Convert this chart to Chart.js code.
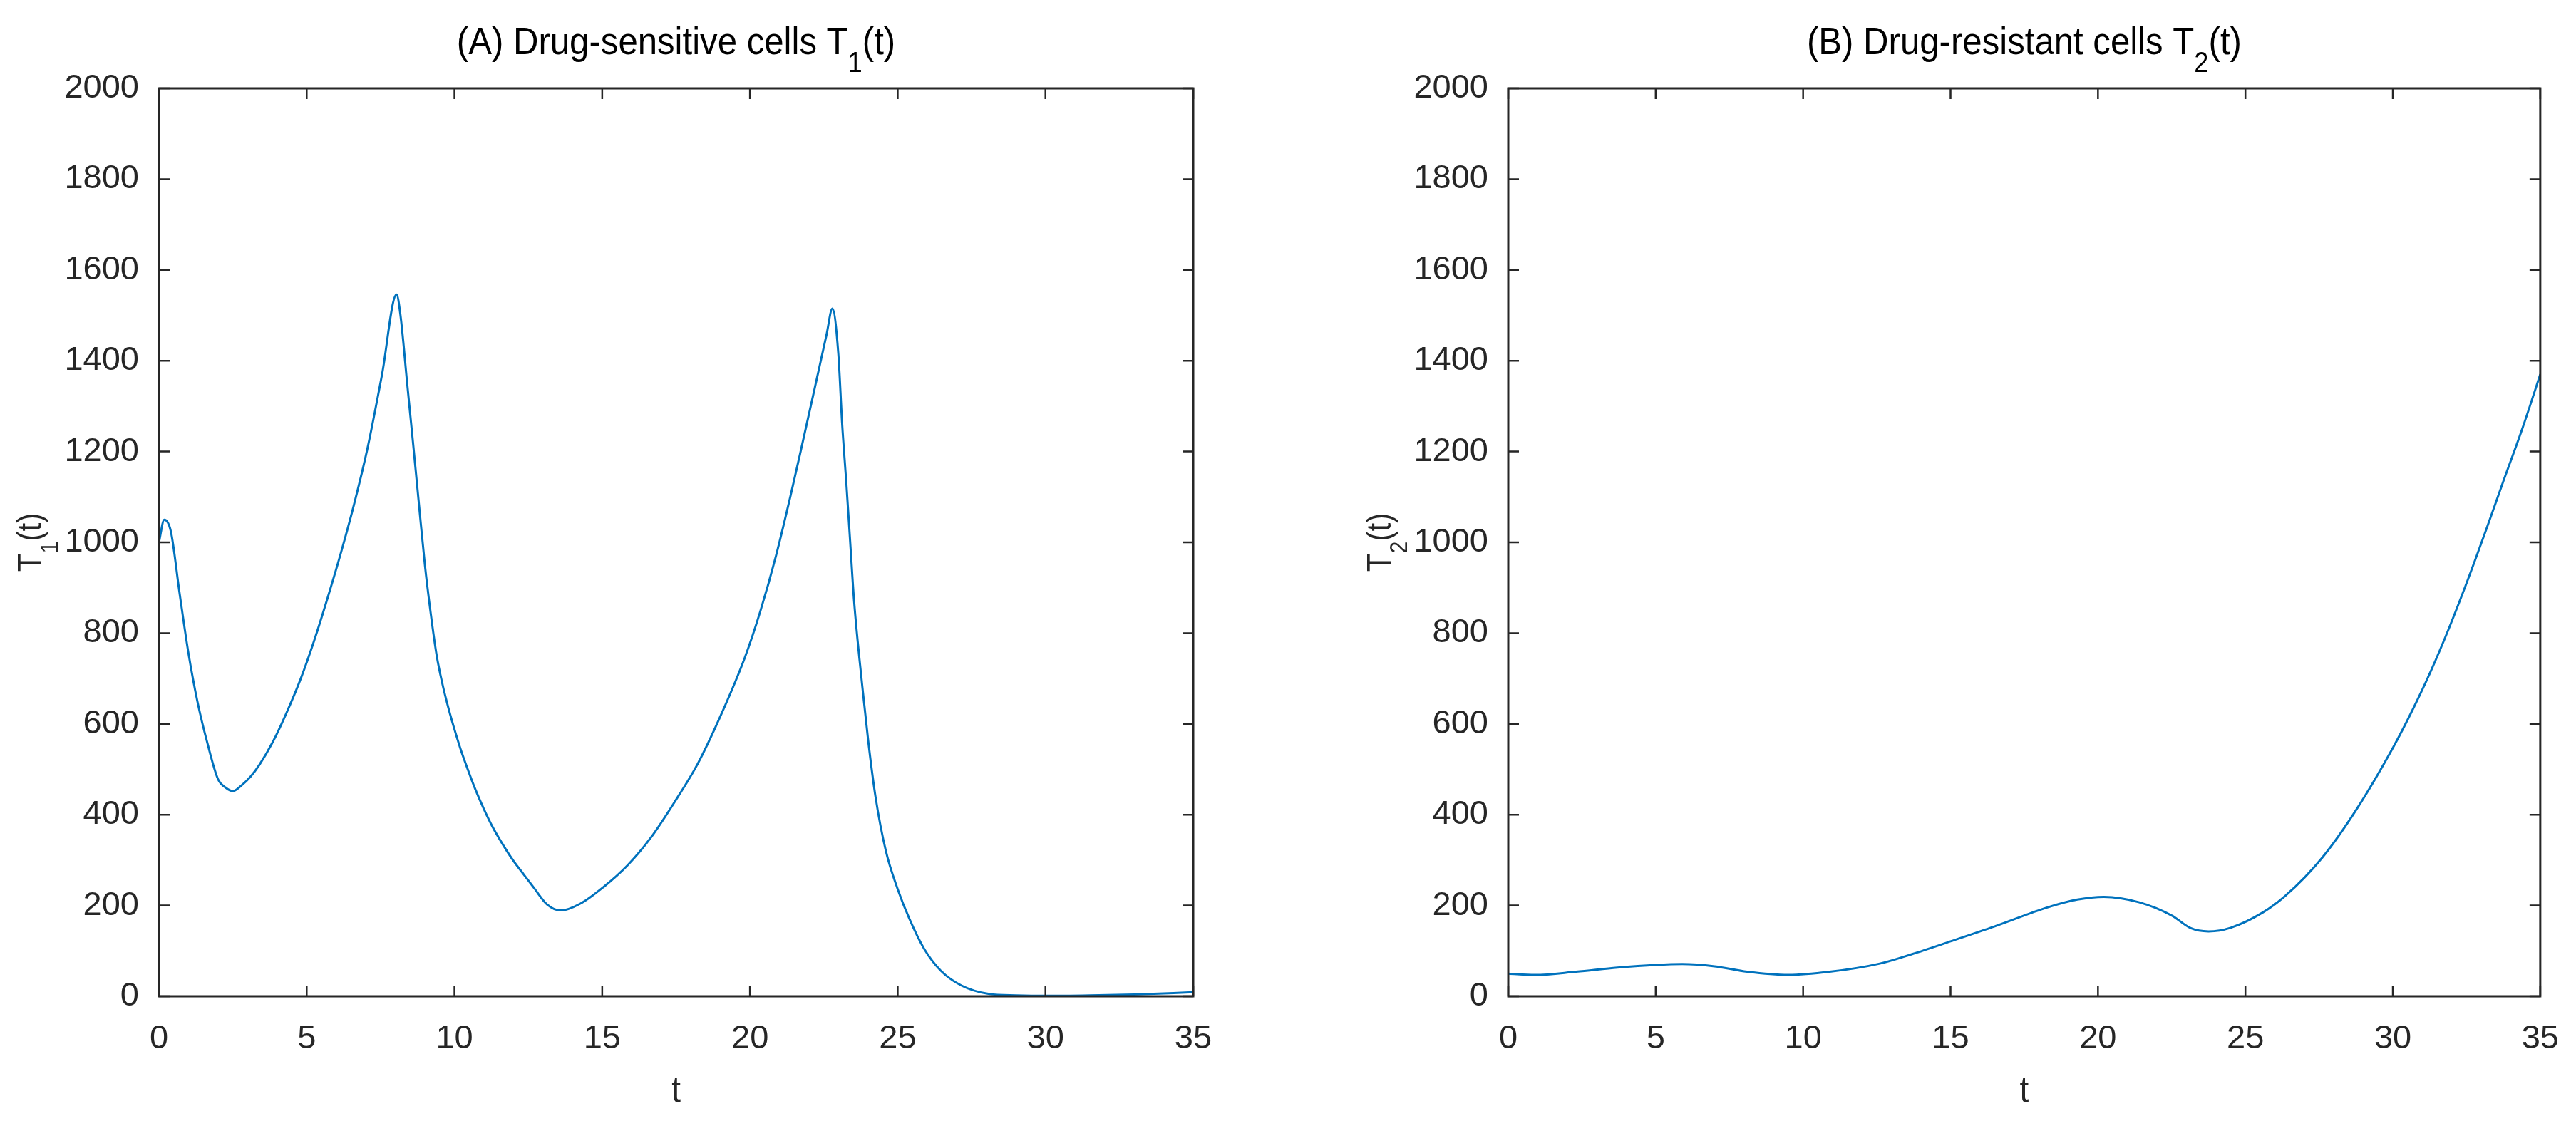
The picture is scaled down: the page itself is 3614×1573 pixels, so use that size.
<!DOCTYPE html>
<html>
<head>
<meta charset="utf-8">
<script src="https://cdn.jsdelivr.net/npm/chart.js@4.4.0/dist/chart.umd.min.js"></script>
<style>
  html, body { margin: 0; padding: 0; background: #fff; }
  #wrap { position: relative; width: 3614px; height: 1573px; }
  .panel { position: absolute; top: 0; width: 1807px; height: 1573px; }
</style>
</head>
<body>
<div id="wrap">
  <div class="panel" style="left:0"><canvas id="chartA" width="1807" height="1573"></canvas></div>
  <div class="panel" style="left:1807px"><canvas id="chartB" width="1807" height="1573"></canvas></div>
</div>
<script>
// Data
const tSensitive = [0, 0.18, 0.4, 0.7, 1.0, 1.3, 1.65, 2.0, 2.25, 2.5, 2.8, 3.1, 3.4, 3.85, 4.3, 4.8, 5.25, 5.7, 6.15, 6.6, 7.05, 7.55, 8.04, 8.17, 8.4, 8.6, 8.8, 9.0, 9.2, 9.4, 9.6, 9.8, 10.0, 10.2, 10.45, 10.7, 11.0, 11.3, 11.65, 12.0, 12.35, 12.7, 13.14, 13.6, 14.26, 15.05, 15.85, 16.64, 17.43, 18.23, 19.02, 19.82, 20.35, 20.88, 21.4, 21.8, 22.2, 22.59, 22.79, 22.99, 23.12, 23.26, 23.39, 23.52, 23.8, 24.0, 24.25, 24.6, 25.0, 25.4, 25.9, 26.45, 27.15, 28.1, 29.0, 30.0, 31.5, 33.0, 35.0];
const sensitiveCells = [1000, 1050, 1025, 887, 755, 650, 555, 478, 460, 452, 465, 484, 510, 560, 622, 700, 783, 876, 975, 1083, 1205, 1370, 1546, 1502, 1350, 1218, 1083, 950, 842, 750, 686, 634, 588, 546, 500, 457, 412, 372, 333, 298, 268, 238, 202, 189, 204, 241, 288, 349, 426, 512, 620, 745, 848, 970, 1110, 1225, 1342, 1457, 1515, 1416, 1261, 1132, 1003, 874, 684, 564, 439, 320, 236, 170, 104, 57, 24, 5, 2, 1, 2, 4, 9];

const tResistant = [0, 0.9, 2.3, 3.7, 5.0, 5.9, 7.0, 8.1, 9.5, 10.9, 12.6, 13.7, 15.0, 16.5, 18.3, 19.3, 20.2, 21.4, 22.5, 23.15, 23.75, 24.5, 25.6, 26.35, 27.6, 28.8, 30.05, 30.7, 31.3, 31.9, 32.5, 33.15, 33.75, 34.4, 35.0];
const resistantCells = [50, 47, 54, 63, 69, 71, 66, 54, 47, 54, 72, 93, 121, 154, 196, 213, 219, 207, 178, 150, 143, 151, 185, 221, 305, 415, 553, 635, 718, 810, 910, 1025, 1135, 1252, 1370];

// Axis ranges / tick spacing
const xRange = [0, 35], xStep = 5;
const yRange = [0, 2000], yStep = 200;

// Titles and labels (parts with sub:true are subscripts)
const titleA = [{ text: "(A) Drug-sensitive cells T" }, { text: "1", sub: true }, { text: "(t)" }];
const titleB = [{ text: "(B) Drug-resistant cells T" }, { text: "2", sub: true }, { text: "(t)" }];
const yLabelA = [{ text: "T" }, { text: "1", sub: true }, { text: "(t)" }];
const yLabelB = [{ text: "T" }, { text: "2", sub: true }, { text: "(t)" }];
const xLabel = [{ text: "t" }];

const AXIS = "#262626";
const LINE = "#0072BD";

// Is a narrow face around? otherwise shrink regular one a bit
function hasFont(name) {
  const c = document.createElement("canvas").getContext("2d");
  c.font = "100px monospace";
  const a = c.measureText("2000 abcdef").width;
  c.font = `100px "${name}", monospace`;
  const b = c.measureText("2000 abcdef").width;
  return a !== b;
}
const narrow = hasFont("Liberation Sans Narrow");
const tickFont = narrow ? { family: '"Liberation Sans Narrow"', size: 50 } : { family: '"Liberation Sans", Arial, sans-serif', size: 47 };
const TEXT_FAMILY = '"Liberation Sans", Arial, sans-serif';

function drawRich(ctx, parts, x, y, size, color, rotate, subScale, subDrop, squeeze) {
  ctx.save();
  ctx.translate(x, y);
  if (rotate) ctx.rotate(-Math.PI / 2);
  ctx.scale(squeeze, 1);
  ctx.fillStyle = color;
  ctx.textAlign = "left";
  ctx.textBaseline = "alphabetic";
  let total = 0;
  parts.forEach(p => {
    ctx.font = `${p.sub ? size * subScale : size}px ${TEXT_FAMILY}`;
    total += ctx.measureText(p.text).width;
  });
  let cx = -total / 2;
  parts.forEach(p => {
    ctx.font = `${p.sub ? size * subScale : size}px ${TEXT_FAMILY}`;
    ctx.fillText(p.text, cx, p.sub ? subDrop : 0);
    cx += ctx.measureText(p.text).width;
  });
  ctx.restore();
}

// MATLAB-like box with inward ticks on all four sides + titles
const boxPlugin = {
  id: "boxPlugin",
  afterDatasetsDraw(chart, args, opts) {
    const { ctx, chartArea: a, scales } = chart;
    const tl = 15;
    ctx.save();
    ctx.strokeStyle = AXIS;
    ctx.lineWidth = 2.5;
    ctx.beginPath();
    scales.x.ticks.forEach(t => {
      const px = scales.x.getPixelForValue(t.value);
      ctx.moveTo(px, a.bottom); ctx.lineTo(px, a.bottom - tl);
      ctx.moveTo(px, a.top); ctx.lineTo(px, a.top + tl);
    });
    scales.y.ticks.forEach(t => {
      const py = scales.y.getPixelForValue(t.value);
      ctx.moveTo(a.left, py); ctx.lineTo(a.left + tl, py);
      ctx.moveTo(a.right, py); ctx.lineTo(a.right - tl, py);
    });
    ctx.stroke();
    ctx.lineWidth = 3;
    ctx.strokeRect(a.left, a.top, a.right - a.left, a.bottom - a.top);
    ctx.restore();

    const midX = (a.left + a.right) / 2;
    const midY = (a.top + a.bottom) / 2;
    drawRich(ctx, opts.title, midX, a.top - 48, 54, "#000", false, 0.74, 25, 0.91);
    drawRich(ctx, opts.yLabel, a.left - 165, midY, 48, AXIS, true, 0.72, 23, 0.88);
    drawRich(ctx, xLabel, midX, a.bottom + 148, 52, AXIS, false, 0.72, 20, 0.88);
  }
};

function makeChart(id, tArr, vals, title, yLabel, axisWidth, padRight) {
  const points = tArr.map((t, i) => ({ x: t, y: vals[i] }));
  return new Chart(document.getElementById(id), {
    type: "line",
    data: {
      datasets: [{
        data: points,
        borderColor: LINE,
        borderWidth: 3,
        pointRadius: 0,
        fill: false,
        cubicInterpolationMode: "monotone"
      }]
    },
    options: {
      responsive: false,
      devicePixelRatio: 1,
      animation: false,
      layout: { padding: { top: 124, right: padRight, bottom: 0, left: 0 } },
      plugins: {
        legend: { display: false },
        tooltip: { enabled: false },
        boxPlugin: { title: title, yLabel: yLabel }
      },
      scales: {
        x: {
          type: "linear",
          min: xRange[0], max: xRange[1],
          grid: { display: false },
          border: { display: false },
          ticks: { stepSize: xStep, color: AXIS, font: tickFont, padding: 24, maxRotation: 0, callback: v => String(v) },
          afterFit: s => { s.height = 175; }
        },
        y: {
          min: yRange[0], max: yRange[1],
          grid: { display: false },
          border: { display: false },
          ticks: { stepSize: yStep, color: AXIS, font: tickFont, padding: 20, callback: v => String(v) },
          afterFit: s => { s.width = axisWidth; }
        }
      }
    },
    plugins: [boxPlugin]
  });
}

makeChart("chartA", tSensitive, sensitiveCells, titleA, yLabelA, 223, 133);
makeChart("chartB", tResistant, resistantCells, titleB, yLabelB, 309, 40);
</script>
</body>
</html>
